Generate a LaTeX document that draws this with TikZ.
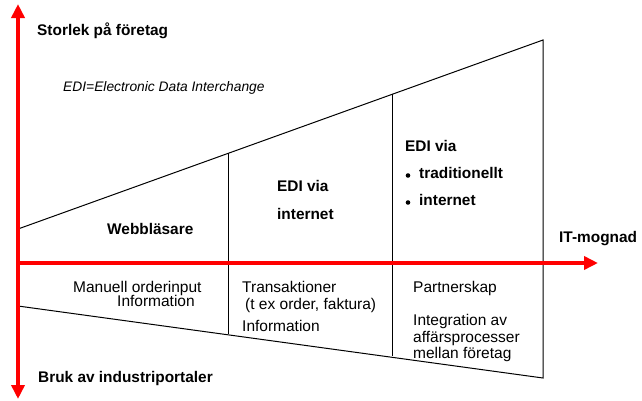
\documentclass[tikz,border=0pt]{standalone}
\usepackage{fontspec}
\setmainfont{Liberation Sans}
\usetikzlibrary{arrows.meta}
\begin{document}
\begin{tikzpicture}[x=1pt,y=-1pt,
  redarrow/.style={draw=red,line width=4pt,-{Triangle[length=14pt,width=13pt]}},
  frame/.style={draw=black,line width=1pt},
  boldlbl/.style={font=\fontsize{15.4}{18}\selectfont\bfseries,inner sep=0pt,anchor=base west},
  plainlbl/.style={font=\fontsize{15.5}{18}\selectfont,inner sep=0pt,anchor=base west},
  itlbl/.style={font=\fontsize{13.8}{16}\selectfont\itshape,inner sep=0pt,anchor=base west},
  bulletdot/.style={fill=black}]
\useasboundingbox (0,0) rectangle (642,400);
% trapezoid corners
\coordinate (ul) at (18,229);
\coordinate (ll) at (18,306);
\coordinate (ur) at (543,40);
\coordinate (lr) at (543,378);
\coordinate (t1) at (228,153);
\coordinate (b1) at (228,334);
\coordinate (t2) at (392,94);
\coordinate (b2) at (392,356);
\draw[frame] (ul) -- (ur) -- (lr) -- (ll);
\draw[frame] (t1) -- (b1);
\draw[frame] (t2) -- (b2);
% axes
\coordinate (vtop) at (18,4);
\coordinate (vbot) at (18,399);
\coordinate (vmid) at (18,263);
\coordinate (hend) at (598,263);
\draw[redarrow,{Triangle[length=14pt,width=13pt]}-{Triangle[length=14pt,width=13pt]}] (vbot) -- (vtop);
\draw[redarrow] (vmid) -- (hend);
% labels
\node[boldlbl] (storlek) at (37,35) {Storlek på företag};
\node[itlbl] (edidef) at (63,91) {EDI=Electronic Data Interchange};
\node[boldlbl] (webb) at (107,234) {Webbläsare};
\node[boldlbl] (edi1) at (277,191) {EDI via};
\node[boldlbl] (inet1) at (277,219) {internet};
\node[boldlbl] (edi2) at (405,151) {EDI via};
\fill[bulletdot] (408,175.5) circle (2.3);
\node[boldlbl] (trad) at (419,178) {traditionellt};
\fill[bulletdot] (408,202.5) circle (2.3);
\node[boldlbl] (inet2) at (419,205) {internet};
\node[boldlbl] (itm) at (559,242) {IT-mognad};
\node[plainlbl] (man) at (73,292) {Manuell orderinput};
\node[plainlbl] (info1) at (117,306) {Information};
\node[plainlbl] (trans) at (242,292) {Transaktioner};
\node[plainlbl] (tex) at (245,309) {(t ex order, faktura)};
\node[plainlbl] (info2) at (242,331) {Information};
\node[plainlbl] (partner) at (413,292) {Partnerskap};
\node[plainlbl] (integ) at (413,325) {Integration av};
\node[plainlbl] (affar) at (413,342) {affärsprocesser};
\node[plainlbl] (mellan) at (413,358) {mellan företag};
\node[boldlbl] (bruk) at (38,382) {Bruk av industriportaler};
\end{tikzpicture}
\end{document}
